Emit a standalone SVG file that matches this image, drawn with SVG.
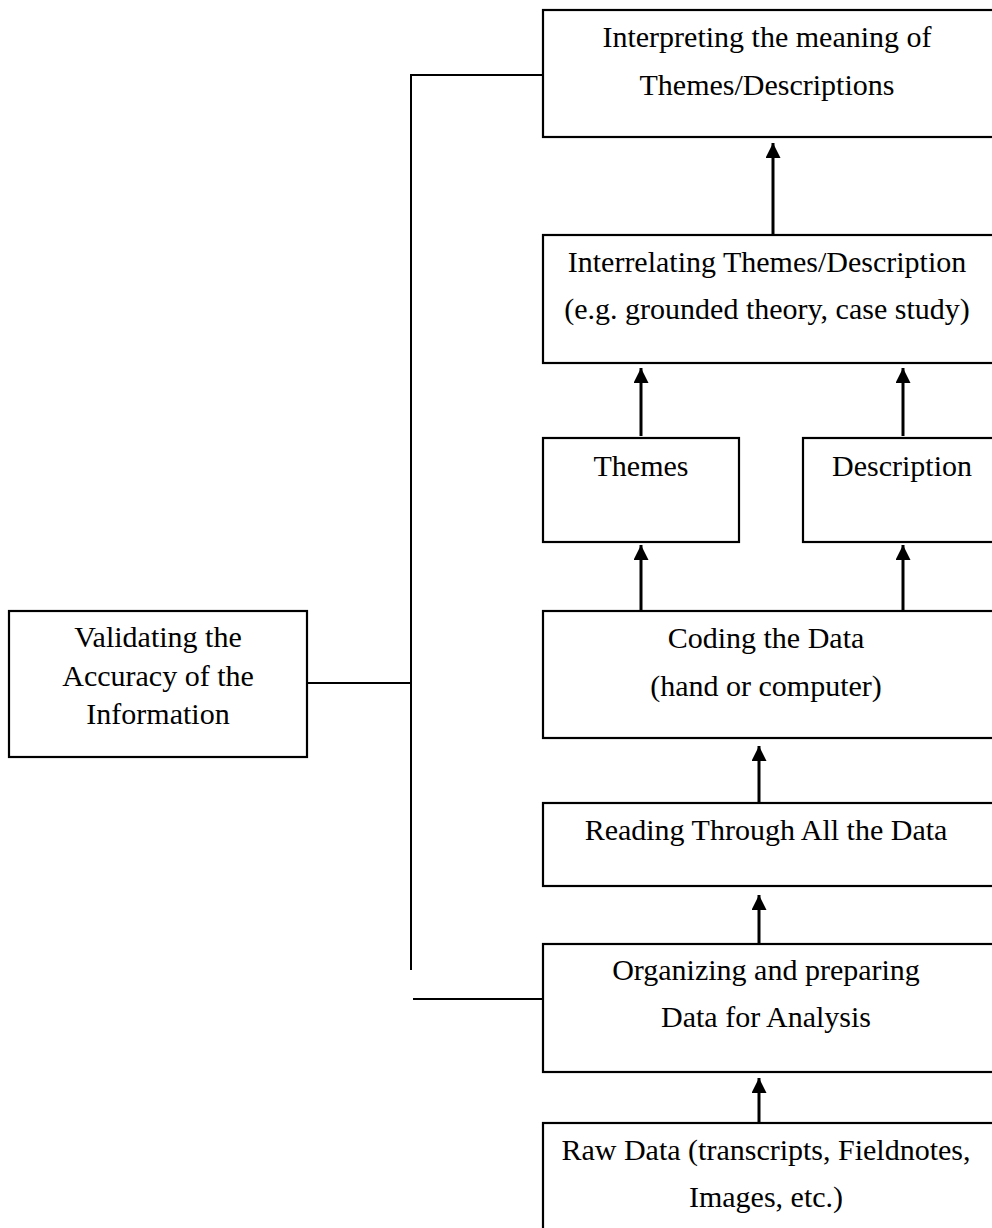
<svg xmlns="http://www.w3.org/2000/svg" width="992" height="1228" viewBox="0 0 992 1228">
<style>
.box{fill:#fff;stroke:#000;stroke-width:2.2}
.t{font-family:"Liberation Serif","Times New Roman",serif;font-size:30px;fill:#000;text-anchor:middle}
.ln{stroke:#000;stroke-width:2;fill:none}
.ar{stroke:#000;stroke-width:3;fill:none;marker-end:url(#ah)}
</style>
<defs>
<marker id="ah" viewBox="0 0 10 10" refX="10" refY="5" markerWidth="5" markerHeight="5" markerUnits="strokeWidth" orient="auto">
<path d="M0,0 L10,5 L0,10 z" fill="#000"/>
</marker>
</defs>
<rect width="992" height="1228" fill="#fff"/>
<g id="connectors">
<polyline class="ln" points="543,75 411,75 411,970"/>
<line class="ln" x1="307" y1="683" x2="411" y2="683"/>
<line class="ln" x1="413" y1="999" x2="543" y2="999"/>
<line class="ar" x1="773" y1="234" x2="773" y2="143"/>
<line class="ar" x1="641" y1="436" x2="641" y2="368"/>
<line class="ar" x1="903" y1="436" x2="903" y2="368"/>
<line class="ar" x1="641" y1="610" x2="641" y2="545"/>
<line class="ar" x1="903" y1="610" x2="903" y2="545"/>
<line class="ar" x1="759" y1="802" x2="759" y2="746"/>
<line class="ar" x1="759" y1="943" x2="759" y2="895"/>
<line class="ar" x1="759" y1="1122" x2="759" y2="1078"/>
</g>
<g id="interpreting">
<rect class="box" x="543" y="10" width="470" height="127"/>
<text class="t" x="767" y="47">Interpreting the meaning of</text>
<text class="t" x="767" y="95">Themes/Descriptions</text>
</g>
<g id="interrelating">
<rect class="box" x="543" y="235" width="470" height="128"/>
<text class="t" x="767" y="272">Interrelating Themes/Description</text>
<text class="t" x="767" y="319">(e.g. grounded theory, case study)</text>
</g>
<g id="themes">
<rect class="box" x="543" y="438" width="196" height="104"/>
<text class="t" x="641" y="476">Themes</text>
</g>
<g id="description">
<rect class="box" x="803" y="438" width="210" height="104"/>
<text class="t" x="902" y="476">Description</text>
</g>
<g id="coding">
<rect class="box" x="543" y="611" width="470" height="127"/>
<text class="t" x="766" y="648">Coding the Data</text>
<text class="t" x="766" y="696">(hand or computer)</text>
</g>
<g id="reading">
<rect class="box" x="543" y="803" width="470" height="83"/>
<text class="t" x="766" y="840">Reading Through All the Data</text>
</g>
<g id="organizing">
<rect class="box" x="543" y="944" width="470" height="128"/>
<text class="t" x="766" y="980">Organizing and preparing</text>
<text class="t" x="766" y="1027">Data for Analysis</text>
</g>
<g id="raw">
<rect class="box" x="543" y="1123" width="470" height="130"/>
<text class="t" x="766" y="1160">Raw Data (transcripts, Fieldnotes,</text>
<text class="t" x="766" y="1207">Images, etc.)</text>
</g>
<g id="validating">
<rect class="box" x="9" y="611" width="298" height="146"/>
<text class="t" x="158" y="647">Validating the</text>
<text class="t" x="158" y="686">Accuracy of the</text>
<text class="t" x="158" y="724">Information</text>
</g>
</svg>
